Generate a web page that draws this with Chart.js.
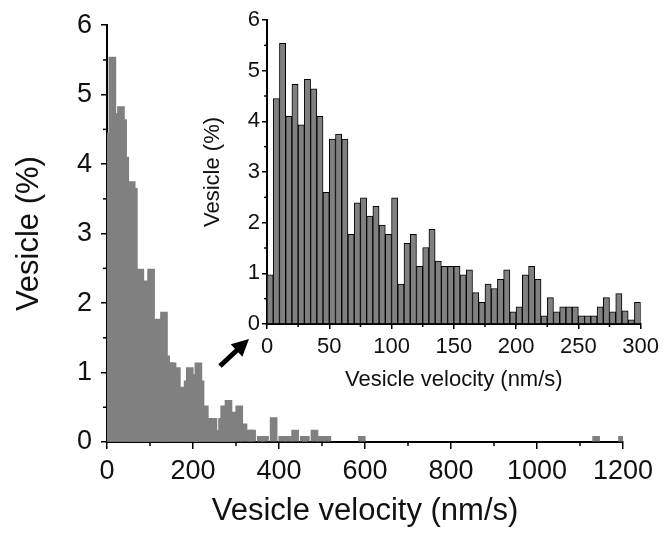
<!DOCTYPE html>
<html>
<head>
<meta charset="utf-8">
<script src="https://cdn.jsdelivr.net/npm/chart.js@4.4.0/dist/chart.umd.min.js"></script>
<style>
  body { margin: 0; background: #fff; }
  #wrap { position: relative; width: 664px; height: 535px; }
  #main { position: absolute; left: 0; top: 0; }
  #inset { position: absolute; left: 195px; top: 0; }
</style>
</head>
<body>
<div id="wrap">
  <canvas id="main" width="664" height="535"></canvas>
  <canvas id="inset" width="469" height="400"></canvas>
</div>
<script>
// 5 nm/s bins, 0-300
const binCenters = [
  2.5, 7.5, 12.5, 17.5, 22.5, 27.5, 32.5, 37.5, 42.5, 47.5,
  52.5, 57.5, 62.5, 67.5, 72.5, 77.5, 82.5, 87.5, 92.5, 97.5,
  102.5, 107.5, 112.5, 117.5, 122.5, 127.5, 132.5, 137.5, 142.5, 147.5,
  152.5, 157.5, 162.5, 167.5, 172.5, 177.5, 182.5, 187.5, 192.5, 197.5,
  202.5, 207.5, 212.5, 217.5, 222.5, 227.5, 232.5, 237.5, 242.5, 247.5,
  252.5, 257.5, 262.5, 267.5, 272.5, 277.5, 282.5, 287.5, 292.5, 297.5
];
const vesiclePct = [
  0.97, 4.45, 5.54, 4.10, 4.73, 3.93, 4.83, 4.64, 4.10, 2.60,
  3.65, 3.75, 3.65, 1.77, 2.39, 2.49, 2.13, 2.32, 1.95, 1.77,
  2.49, 0.79, 1.59, 1.77, 1.14, 1.51, 1.87, 1.24, 1.14, 1.14,
  1.14, 0.97, 1.07, 0.62, 0.43, 0.79, 0.70, 0.88, 1.07, 0.24,
  0.34, 0.97, 1.14, 0.88, 0.16, 0.52, 0.24, 0.34, 0.34, 0.34,
  0.16, 0.16, 0.16, 0.34, 0.52, 0.24, 0.60, 0.26, 0.08, 0.43
];
// non-empty bins above 300 nm/s (only in the big plot)
const tailCenters = [307.5, 317.5, 332.5, 337.5, 357.5, 367.5, 387.5, 407.5, 422.5, 437.5,
  457.5, 462.5, 482.5, 497.5, 512.5, 592.5, 1137.5, 1197.5];
const tailPct = [0.52, 0.26, 0.17, 0.17, 0.08, 0.08, 0.35, 0.08, 0.08, 0.17,
  0.08, 0.08, 0.17, 0.08, 0.08, 0.08, 0.08, 0.08];

// ticks
const mainXTicks = [0, 200, 400, 600, 800, 1000, 1200];
const mainXMinor = [100, 300, 500, 700, 900, 1100];
const mainYTicks = [0, 1, 2, 3, 4, 5, 6];
const mainYMinor = [0.5, 1.5, 2.5, 3.5, 4.5, 5.5];
const insetXTicks = [0, 50, 100, 150, 200, 250, 300];
const insetXMinor = [25, 75, 125, 175, 225, 275];
const insetYTicks = [0, 1, 2, 3, 4, 5, 6];
const insetYMinor = [0.5, 1.5, 2.5, 3.5, 4.5, 5.5];

const FONT = "'Liberation Sans', Arial, sans-serif";
const INK = '#111';

// short minor tick marks
const minorTicks = {
  id: 'minorTicks',
  afterDraw(chart, args, opts) {
    const ctx = chart.ctx;
    const xs = chart.scales.x, ys = chart.scales.y;
    ctx.save();
    ctx.strokeStyle = '#000';
    ctx.lineWidth = 1.5;
    opts.x.forEach(v => {
      const px = xs.getPixelForValue(v);
      ctx.beginPath(); ctx.moveTo(px, xs.top); ctx.lineTo(px, xs.top + opts.len); ctx.stroke();
    });
    opts.y.forEach(v => {
      const py = ys.getPixelForValue(v);
      ctx.beginPath(); ctx.moveTo(ys.right, py); ctx.lineTo(ys.right - opts.len, py); ctx.stroke();
    });
    ctx.restore();
  }
};

// the black arrow pointing at the inset
const arrow = {
  id: 'arrow',
  afterDraw(chart) {
    const ctx = chart.ctx;
    const x0 = 220, y0 = 366, x1 = 249, y1 = 339;
    const len = Math.hypot(x1 - x0, y1 - y0);
    const ux = (x1 - x0) / len, uy = (y1 - y0) / len;
    const head = 17, half = 8.5;
    const bx = x1 - ux * head, by = y1 - uy * head;
    ctx.save();
    ctx.fillStyle = '#000';
    ctx.strokeStyle = '#000';
    ctx.lineWidth = 5;
    ctx.beginPath(); ctx.moveTo(x0, y0); ctx.lineTo(bx + ux * 2, by + uy * 2); ctx.stroke();
    ctx.beginPath();
    ctx.moveTo(x1, y1);
    ctx.lineTo(bx - uy * half, by + ux * half);
    ctx.lineTo(bx + uy * half, by - ux * half);
    ctx.closePath();
    ctx.fill();
    ctx.restore();
  }
};

function axisGrid(len) {
  return { display: true, drawOnChartArea: false, drawTicks: true, tickLength: len,
           color: '#000', lineWidth: 1.5, offset: false };
}
const plain = v => String(v);

// main plot: all bins, drawn as wide overlapping columns
const mainPoints = binCenters.map((x, i) => ({ x: x, y: vesiclePct[i] }))
  .concat(tailCenters.map((x, i) => ({ x: x, y: tailPct[i] })));

new Chart(document.getElementById('main'), {
  type: 'bar',
  data: {
    datasets: [{
      data: mainPoints,
      backgroundColor: '#808080',
      borderWidth: 0,
      barThickness: 7
    }]
  },
  options: {
    responsive: false,
    animation: false,
    devicePixelRatio: 1,
    layout: { padding: { top: 20, right: 41, left: 0, bottom: 0 } },
    plugins: {
      legend: { display: false },
      tooltip: { enabled: false },
      minorTicks: { x: mainXMinor, y: mainYMinor, len: 4 }
    },
    scales: {
      x: {
        type: 'linear', min: 0, max: 1200, offset: false,
        afterBuildTicks: s => { s.ticks = mainXTicks.map(v => ({ value: v })); },
        afterFit: s => { s.height = 93; },
        grid: axisGrid(7),
        border: { display: true, color: '#000', width: 2 },
        ticks: { color: INK, font: { family: FONT, size: 27 }, padding: 6, maxRotation: 0, callback: plain },
        title: { display: true, text: 'Vesicle velocity (nm/s)', color: INK,
                 font: { family: FONT, size: 31 }, padding: { top: 0, bottom: 5 } }
      },
      y: {
        min: 0, max: 6,
        afterBuildTicks: s => { s.ticks = mainYTicks.map(v => ({ value: v })); },
        afterFit: s => { s.width = 107; },
        grid: axisGrid(6),
        border: { display: true, color: '#000', width: 2 },
        ticks: { color: INK, font: { family: FONT, size: 27 }, padding: 9, callback: plain },
        title: { display: true, text: 'Vesicle (%)', color: INK,
                 font: { family: FONT, size: 31 }, padding: { top: 11, bottom: 0 } }
      }
    }
  },
  plugins: [minorTicks, arrow]
});

// inset: 0-300 nm/s
new Chart(document.getElementById('inset'), {
  type: 'bar',
  data: {
    datasets: [{
      data: binCenters.map((x, i) => ({ x: x, y: vesiclePct[i] })),
      backgroundColor: '#808080',
      borderColor: '#000',
      borderWidth: 1,
      barPercentage: 1,
      categoryPercentage: 1
    }]
  },
  options: {
    responsive: false,
    animation: false,
    devicePixelRatio: 1,
    layout: { padding: { top: 20, right: 22.5, left: 0, bottom: 0 } },
    plugins: {
      legend: { display: false },
      tooltip: { enabled: false },
      minorTicks: { x: insetXMinor, y: insetYMinor, len: 3 }
    },
    scales: {
      x: {
        type: 'linear', min: 0, max: 300, offset: false,
        afterBuildTicks: s => { s.ticks = insetXTicks.map(v => ({ value: v })); },
        afterFit: s => { s.height = 76; },
        grid: axisGrid(5),
        border: { display: true, color: '#000', width: 2 },
        ticks: { color: INK, font: { family: FONT, size: 22 }, padding: 5, maxRotation: 0, callback: plain },
        title: { display: true, text: 'Vesicle velocity (nm/s)', color: INK,
                 font: { family: FONT, size: 22 }, padding: { top: 0, bottom: 7 } }
      },
      y: {
        min: 0, max: 6,
        afterBuildTicks: s => { s.ticks = insetYTicks.map(v => ({ value: v })); },
        afterFit: s => { s.width = 72; },
        grid: axisGrid(5),
        border: { display: true, color: '#000', width: 2 },
        ticks: { color: INK, font: { family: FONT, size: 22 }, padding: 2, callback: plain },
        title: { display: true, text: 'Vesicle (%)', color: INK,
                 font: { family: FONT, size: 22 }, padding: { top: 5, bottom: 0 } }
      }
    }
  },
  plugins: [minorTicks]
});
</script>
</body>
</html>
